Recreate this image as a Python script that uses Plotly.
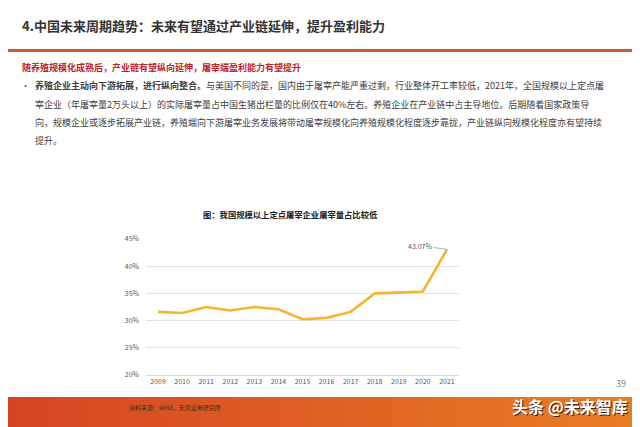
import plotly.graph_objects as go

years = [2009, 2010, 2011, 2012, 2013, 2014, 2015, 2016, 2017, 2018, 2019, 2020, 2021]
year_labels = ["2009", "2010", "2011", "2012", "2013", "2014", "2015", "2016", "2017", "2018", "2019", "2020", "2021"]
share = [31.6, 31.4, 32.5, 31.85, 32.5, 32.1, 30.25, 30.5, 31.6, 35.0, 35.15, 35.35, 43.07]
y_ticks = [20, 25, 30, 35, 40, 45]
y_tick_labels = ["20%", "25%", "30%", "35%", "40%", "45%"]

page_title = "4.中国未来周期趋势：未来有望通过产业链延伸，提升盈利能力"
sub_title = "随养殖规模化成熟后，产业链有望纵向延伸，屠宰端盈利能力有望提升"
para_lines = [
    "<b>养殖企业主动向下游拓展，进行纵向整合。</b>与美国不同的是，国内由于屠宰产能严重过剩，行业整体开工率较低，2021年，全国规模以上定点屠",
    "宰企业（年屠宰量2万头以上）的实际屠宰量占中国生猪出栏量的比例仅在40%左右。养殖企业在产业链中占主导地位。后期随着国家政策导",
    "向，规模企业或逐步拓展产业链，养殖端向下游屠宰业务发展将带动屠宰规模化向养殖规模化程度逐步靠拢，产业链纵向规模化程度亦有望持续",
    "提升。",
]
chart_title = "图：我国规模以上定点屠宰企业屠宰量占比较低"
source_text = "资料来源：wind、天风证券研究所"
watermark = "头条 @未来智库"

OFF = 8  # page body margin in the browser
W, H = 640 - OFF, 427 - OFF
L, R, T, B = 146, 459, 239, 375  # plot area in window pixels
FONT = "Noto Sans CJK SC"


def px(x):
    return (x - L) / (R - L)


def py(y):
    return (B - y) / (B - T)


fig = go.Figure()
fig.add_trace(go.Scatter(
    x=years, y=share, mode="lines",
    line=dict(color="#f2b631", width=2.6),
    hoverinfo="skip", showlegend=False,
))

annotations = []


def txt(x, y, text, size, color="#333333", xanchor="left", bold=False):
    if bold:
        text = "<b>" + text + "</b>"
    annotations.append(dict(
        x=px(x), y=py(y), xref="paper", yref="paper", text=text,
        showarrow=False, xanchor=xanchor, yanchor="middle",
        font=dict(family=FONT, size=size, color=color),
    ))


txt(20, 26, page_title, 13, "#333333", bold=True)
txt(20, 67, sub_title, 9, "#c0222a", bold=True)
txt(19, 85, "•", 9, "#555555")
line_y = [85, 104, 122, 140]
for yy, ln in zip(line_y, para_lines):
    txt(33, yy, ln, 9, "#404040")
txt(290, 214, chart_title, 8.3, "#222222", xanchor="center", bold=True)
txt(223, 407, source_text, 6, "#4a2a1a", xanchor="right")
txt(621, 383, "39", 9, "#888888", xanchor="center")
txt(631, 406.5, watermark, 16, "#3a2a20", xanchor="right", bold=True)
txt(630, 405.5, watermark, 16, "#ffffff", xanchor="right", bold=True)

annotations.append(dict(
    x=2021, y=43.07, xref="x", yref="y", text="43.07%",
    showarrow=True, arrowhead=0, arrowwidth=0.8, arrowcolor="#8a9bb5",
    ax=-27, ay=-4, font=dict(family=FONT, size=7, color="#595959"),
))

shapes = []
shapes.append(dict(type="rect", xref="paper", yref="paper",
                   x0=px(0), x1=px(645), y0=py(52), y1=py(49),
                   fillcolor="#cf5a2c", line=dict(width=0), layer="above"))
n = 64
c0 = (212, 68, 34)
c1 = (234, 125, 36)
for i in range(n):
    t = i / (n - 1)
    c = tuple(int(round(c0[k] + (c1[k] - c0[k]) * t)) for k in range(3))
    x0 = 640 * i / n
    x1 = 640 * (i + 1) / n + 0.6
    shapes.append(dict(type="rect", xref="paper", yref="paper",
                       x0=px(x0), x1=px(x1), y0=py(430), y1=py(397),
                       fillcolor="rgb(%d,%d,%d)" % c, line=dict(width=0), layer="below"))

fig.update_layout(
    width=W, height=H,
    margin=dict(l=L - OFF, r=640 - R, t=T - OFF, b=427 - B, pad=0, autoexpand=False),
    paper_bgcolor="white", plot_bgcolor="white",
    font=dict(family=FONT, size=7, color="#595959"),
    annotations=annotations, shapes=shapes,
    xaxis=dict(range=[2008.5, 2021.5], tickvals=years, ticktext=year_labels,
               showgrid=False, showline=True, linecolor="#d9d9d9",
               linewidth=1, ticks="", tickfont=dict(size=7, color="#595959"),
               zeroline=False, fixedrange=True),
    yaxis=dict(range=[20, 45], tickvals=y_ticks, ticktext=y_tick_labels,
               showgrid=True, gridcolor="#e3e3e3", gridwidth=1, zeroline=False,
               showline=False, ticks="", ticklabelstandoff=6,
               tickfont=dict(size=7, color="#595959"), fixedrange=True),
)

fig.write_html("out.html")
